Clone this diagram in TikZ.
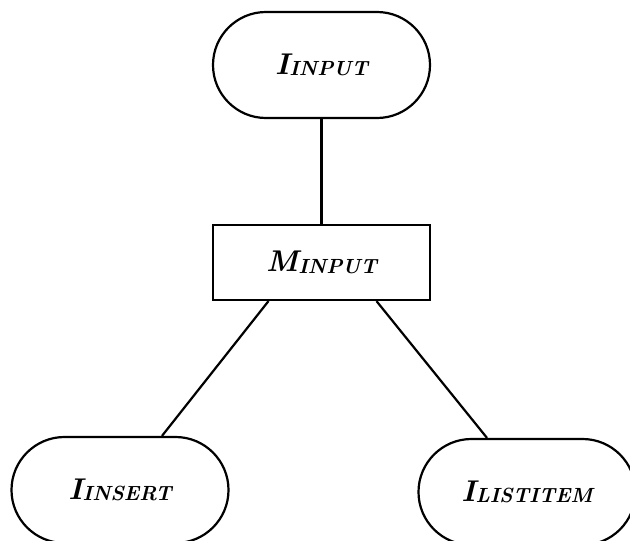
\documentclass[tikz,border=0pt]{standalone}
\usetikzlibrary{calc}
\newcommand{\objname}[2]{{\fontsize{30}{34}\selectfont\bfseries\itshape #1}\raisebox{-0.35ex}{\fontsize{20.5}{24}\selectfont\bfseries\itshape #2}}
\tikzset{
  pill/.style={draw, line width=2.2pt, rectangle, rounded corners=53pt,
    minimum width=217pt, minimum height=106pt, inner sep=0pt},
  modbox/.style={draw, line width=2.2pt, rectangle,
    minimum width=217pt, minimum height=75pt, inner sep=0pt},
  link/.style={line width=2.2pt}
}
\begin{document}
\begin{tikzpicture}[x=1pt,y=-1pt]
  \useasboundingbox (0,0) rectangle (630,541);
  \node[pill]   (iin)  at (321.5,65)  {\objname{I}{INPUT}};
  \node[modbox] (min)  at (321.5,262.5) {\objname{M}{INPUT}};
  \node[pill]   (ins)  at (120,490)   {\objname{I}{INSERT}};
  \node[pill]   (ili)  at (527,492)   {\objname{I}{LISTITEM}};
  \draw[link] (iin.south) -- (min.north);
  \draw[link] ([xshift=-53pt]min.south) -- ([xshift=42pt]ins.north);
  \draw[link] ([xshift=55pt]min.south) -- ([xshift=-40pt]ili.north);
\end{tikzpicture}
\end{document}
